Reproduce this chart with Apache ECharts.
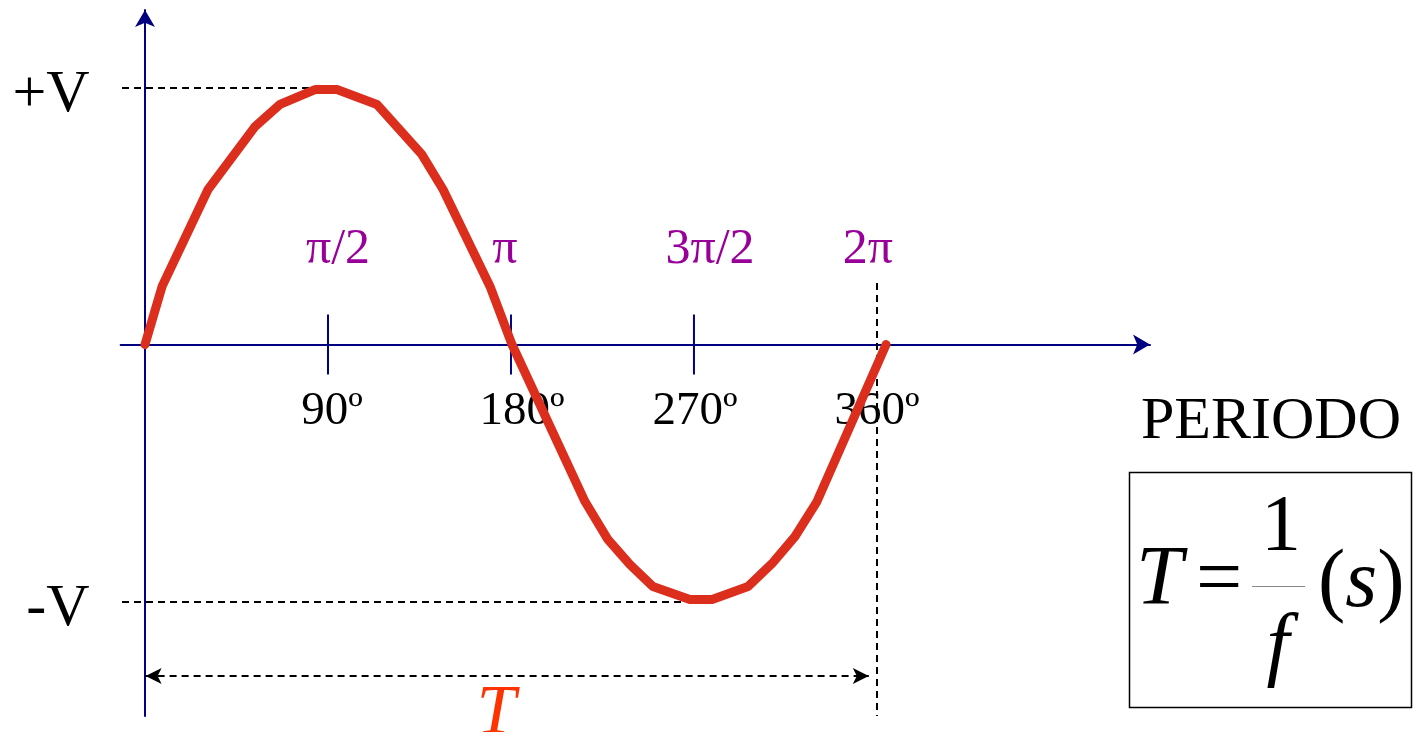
<!DOCTYPE html>
<html>
<head>
<meta charset="utf-8">
<title>PERIODO</title>
<script src="https://cdn.jsdelivr.net/npm/echarts@6/dist/echarts.min.js"></script>
<style>
  html, body { margin: 0; padding: 0; background: #fff; }
  #chart { width: 1423px; height: 732px; }
</style>
</head>
<body>
<div id="chart"></div>
<script>
// Sine wave vertices: phase in degrees, amplitude in units of V
const sineDeg = [0, 8.4, 31.0, 54.1, 66.4, 83.6, 94.4, 114.1, 136.2, 146.6, 169.7, 180.5,
                 216.4, 227.7, 238.5, 249.8, 268.0, 278.9, 296.6, 308.9, 319.7, 330.5, 364.5];
const sineVal = [0, 0.226, 0.603, 0.848, 0.934, 0.992, 0.992, 0.934, 0.739, 0.603, 0.226, 0,
                 -0.611, -0.759, -0.856, -0.942, -0.992, -0.992, -0.942, -0.848, -0.747, -0.611, 0];

// Axis marks
const tickDeg = [90, 180, 270];
const degreeTicks = [90, 180, 270, 360];
const degreeLabels = ['90º', '180º', '270º', '360º'];
const radianDeg = [90, 180, 270, 360];
const radianLabels = ['π/2', 'π', '3π/2', '2π'];
const peakLevels = [1, -1];
const peakLabels = ['+V', '-V'];
const periodDeg = 360;

const SERIF = '"Liberation Serif", "DejaVu Serif", serif';
const AXIS_BLUE = '#000080';
const WAVE_RED = '#DC2E1C';
const PURPLE = '#990099';
const DASH = [7, 5];

// horizontal nudge of the axis annotations (px), purely typographic
const radianShift = [10, -6, 16, -9];
const degreeShift = [4, 11, 1, 0];

const chart = echarts.init(document.getElementById('chart'), null, { renderer: 'canvas' });

const sineData = sineDeg.map((d, i) => [d, sineVal[i]]);

const guideStyle = { type: DASH, color: '#000', width: 2 };

// text annotations anchored on the horizontal axis
function axisTextSeries(name, degs, texts, shifts, dy, color, fontSize) {
  return {
    name: name,
    type: 'scatter',
    silent: true,
    symbolSize: 0,
    clip: false,
    itemStyle: { opacity: 1 },
    data: degs.map((d, i) => ({
      value: [d, 0],
      name: texts[i],
      label: { offset: [shifts[i], dy] }
    })),
    label: {
      show: true,
      position: 'inside',
      formatter: p => p.name,
      color: color,
      opacity: 1,
      fontFamily: SERIF,
      fontSize: fontSize
    }
  };
}

const option = {
  animation: false,
  backgroundColor: '#fff',
  grid: { left: 120.6, right: 273, top: 10, bottom: 16, containLabel: false, outerBoundsMode: 'none' },
  xAxis: {
    type: 'value',
    min: -12,
    max: 494.3,
    axisLine: {
      onZero: true,
      lineStyle: { color: AXIS_BLUE, width: 2 },
      symbol: ['none', 'arrow'],
      symbolSize: [15, 17]
    },
    axisTick: { show: false },
    splitLine: { show: false },
    axisLabel: { show: false }
  },
  yAxis: {
    type: 'value',
    min: -1.4455,
    max: 1.3016,
    axisLine: {
      onZero: true,
      lineStyle: { color: AXIS_BLUE, width: 2 },
      symbol: ['none', 'arrow'],
      symbolSize: [15, 17]
    },
    axisTick: { show: false },
    splitLine: { show: false },
    axisLabel: {
      customValues: peakLevels,
      formatter: v => peakLabels[peakLevels.indexOf(v)],
      color: '#000',
      fontFamily: SERIF,
      fontSize: 60,
      margin: 31,
      verticalAlign: 'top',
      lineHeight: 16
    }
  },
  series: [
    {
      name: 'onda',
      type: 'line',
      data: sineData,
      symbol: 'none',
      smooth: false,
      z: 5,
      lineStyle: { color: WAVE_RED, width: 9, cap: 'round', join: 'round' },
      markLine: {
        silent: true,
        symbol: 'none',
        label: { show: false },
        lineStyle: guideStyle,
        data: [
          // +V and -V levels
          [{ coord: [-11.3, peakLevels[0]] }, { coord: [95.9, peakLevels[0]] }],
          [{ coord: [-11.3, peakLevels[1]] }, { coord: [268, peakLevels[1]] }],
          // end of period
          [{ coord: [periodDeg, 0.239] }, { coord: [periodDeg, -1.4455] }],
          // period span T
          [
            { coord: [0.3, -1.29], symbol: 'arrow', symbolSize: [12, 16] },
            {
              coord: [periodDeg - 4, -1.29], symbol: 'arrow', symbolSize: [12, 16],
              label: {
                show: true,
                formatter: 'T',
                position: 'insideMiddleBottom',
                distance: 4,
                padding: [0, 22, 0, 0],
                color: '#FF3300',
                fontFamily: SERIF,
                fontStyle: 'italic',
                fontSize: 70
              }
            }
          ]
        ]
      }
    },
    {
      name: 'ticks',
      type: 'scatter',
      silent: true,
      data: tickDeg.map(d => [d, 0]),
      symbol: 'rect',
      symbolSize: [2, 60],
      itemStyle: { color: AXIS_BLUE, opacity: 1 },
      z: 3
    },
    axisTextSeries('radianes', radianDeg, radianLabels, radianShift, -95, PURPLE, 50),
    axisTextSeries('grados', degreeTicks, degreeLabels, degreeShift, 67, '#000', 47)
  ],
  graphic: [
    {
      type: 'text',
      left: 1141,
      top: 392,
      style: { text: 'PERIODO', font: '60px ' + SERIF, fill: '#000' }
    },
    {
      type: 'rect',
      shape: { x: 1129.5, y: 472.5, width: 282, height: 235 },
      style: { fill: 'none', stroke: '#000', lineWidth: 1.5 }
    },
    {
      type: 'text',
      x: 1136,
      y: 582,
      style: { text: 'T', font: 'italic 84px ' + SERIF, fill: '#000', verticalAlign: 'middle' }
    },
    {
      type: 'text',
      x: 1196,
      y: 582,
      style: { text: '=', font: '82px ' + SERIF, fill: '#000', verticalAlign: 'middle' }
    },
    {
      type: 'text',
      x: 1281,
      y: 529,
      style: { text: '1', font: '80px ' + SERIF, fill: '#000', align: 'center', verticalAlign: 'middle' }
    },
    {
      type: 'line',
      shape: { x1: 1252, y1: 586.5, x2: 1305, y2: 586.5 },
      style: { stroke: '#888', lineWidth: 1 }
    },
    {
      type: 'text',
      x: 1278,
      y: 648,
      style: { text: 'f', font: 'italic 82px ' + SERIF, fill: '#000', align: 'center', verticalAlign: 'middle' }
    },
    {
      type: 'text',
      x: 1318,
      y: 584,
      style: {
        text: '{p|(}{s|s}{p|)}',
        verticalAlign: 'middle',
        rich: {
          p: { font: '82px ' + SERIF, fill: '#000' },
          s: { font: 'italic 82px ' + SERIF, fill: '#000' }
        }
      }
    }
  ]
};

chart.setOption(option);
</script>
</body>
</html>
